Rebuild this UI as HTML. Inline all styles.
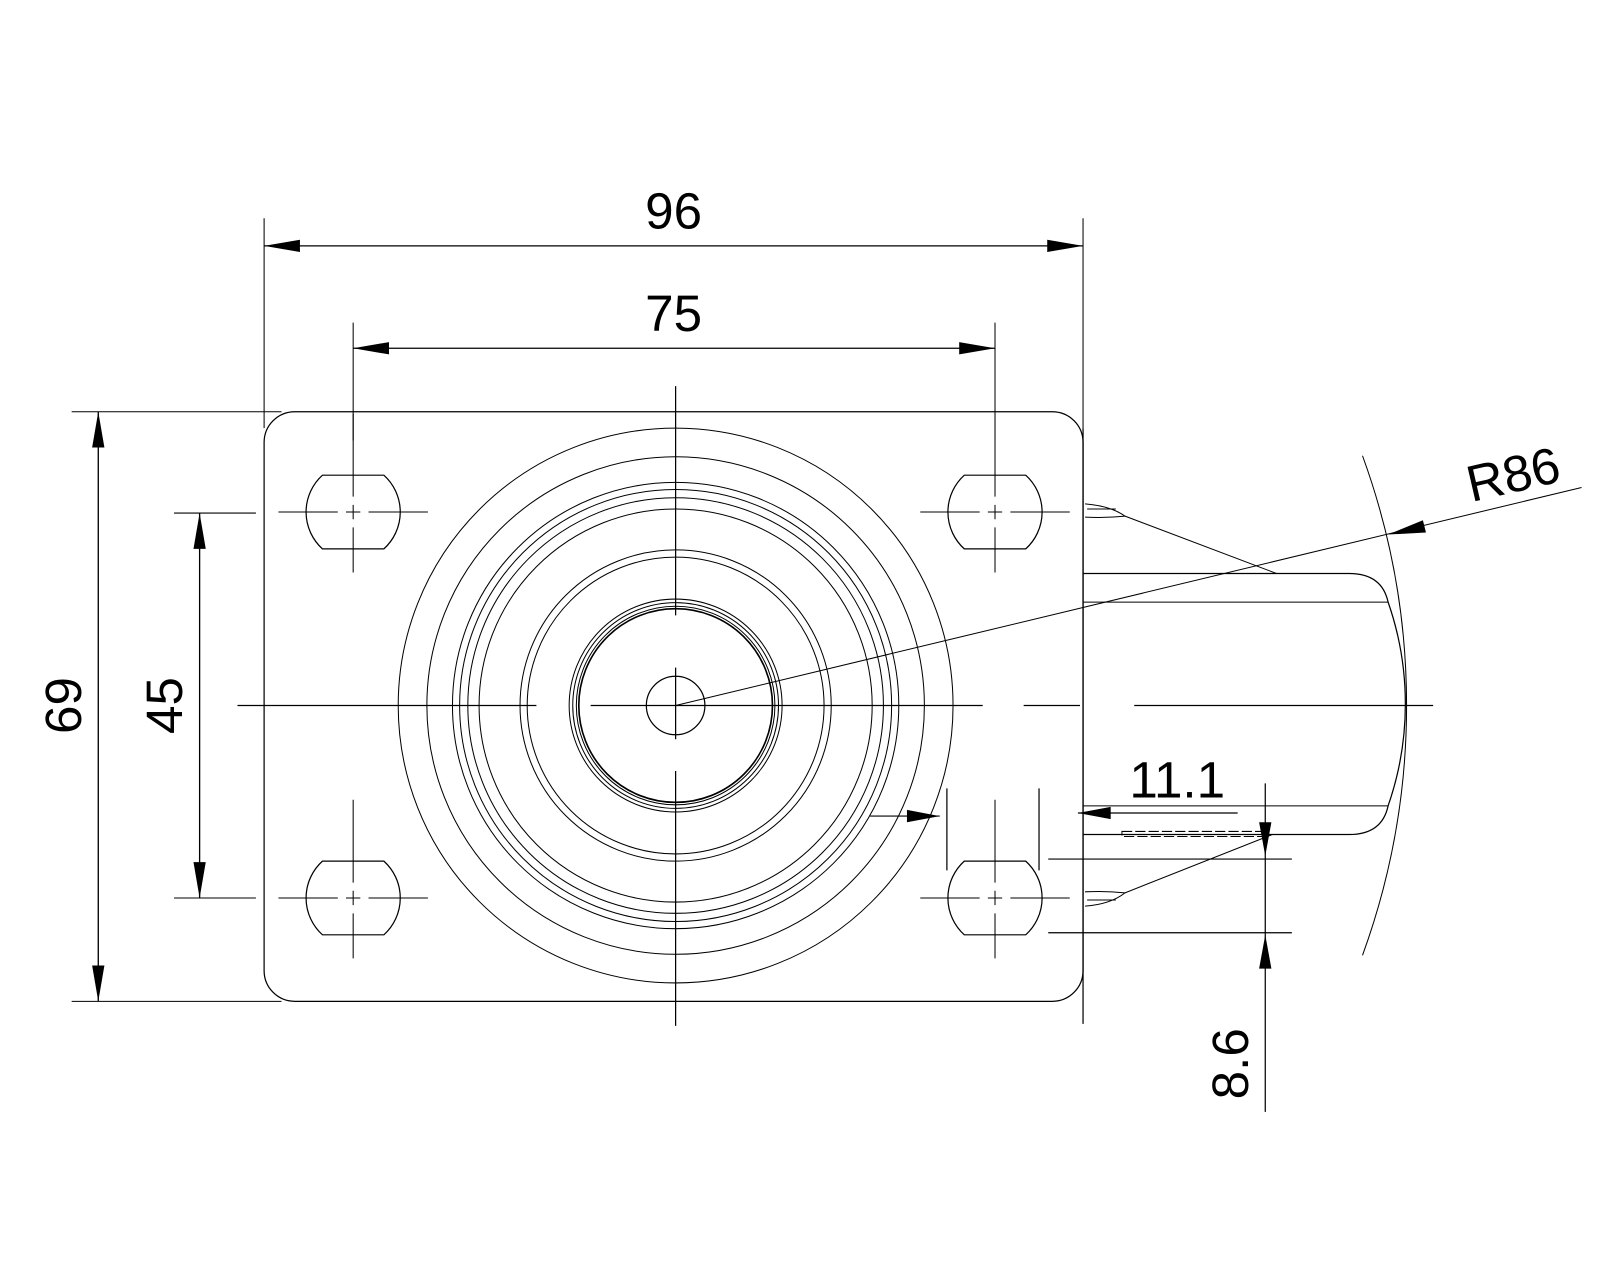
<!DOCTYPE html>
<html><head><meta charset="utf-8"><style>html,body{margin:0;padding:0;background:#fff}svg{display:block}</style></head>
<body>
<svg width="1600" height="1280" viewBox="0 0 1563 1250" xmlns="http://www.w3.org/2000/svg">
<defs>
<g id="slot">
<path d="M-30,-36 L30,-36 A48.5,48.5 0 0 1 30,36 L-30,36 A48.5,48.5 0 0 1 -30,-36 Z" fill="none" stroke="#000" stroke-width="1.2"/>
<path d="M-73,0 H-15 M15,0 H73 M-7,0 H7 M0,-96 V-15 M0,15 V59 M0,-7 V7" stroke="#000" stroke-width="1"/>
</g>
</defs>
<g fill="none" stroke="#000" stroke-width="1">
<!-- plate -->
<rect x="258" y="402" width="800" height="576" rx="30" ry="30" stroke-width="1.2"/>
<!-- circles -->
<g stroke-width="1">
<circle cx="660" cy="689" r="271"/>
<circle cx="660" cy="689" r="243"/>
<circle cx="660" cy="689" r="218"/>
<circle cx="660" cy="689" r="211"/>
<circle cx="660" cy="689" r="203"/>
<circle cx="660" cy="689" r="192"/>
<circle cx="660" cy="689" r="152"/>
<circle cx="660" cy="689" r="145"/>
<circle cx="660" cy="689" r="104"/>
<circle cx="660" cy="689" r="100.5"/>
<circle cx="660" cy="689" r="97"/>
<circle cx="660" cy="689" r="94.6" stroke-width="1.6"/>
<circle cx="660" cy="689" r="28.6" stroke-width="1.2"/>
</g>
<!-- center lines -->
<path d="M232,689 H524 M577,689 H960 M1000,689 H1055 M1108,689 H1400 M660,377 V601 M660,652 V722 M660,753 V1002" stroke-width="1.2"/>
<!-- extension lines -->
<path d="M258,213 V418 M1058,213 V418 M345,315 V430 M972,315 V430 M70,402 H275 M70,978 H275 M170,501 H250 M170,877 H250"/>
<!-- dimension lines -->
<path d="M258,240 H1058 M345,340 H972 M96,402 V978 M195,501 V877" stroke-width="1.3"/>
<!-- wheel profile -->
<path d="M1058,418 V1000" stroke-width="1.2"/>
<path d="M1058,560 H1318 Q1350,560 1356,588 A302,302 0 0 1 1356,787 Q1350,815 1318,815 H1058" stroke-width="1.2"/>
<path d="M1058,588 H1356 M1058,787 H1356"/>
<path d="M1099,504 L1247,560 M1243,815 L1099,872"/>
<path d="M1060,492 Q1085,494 1099,504 Q1080,506 1060,505 M1062,497 H1090"/>
<path d="M1060,885 Q1085,883 1099,872 Q1080,870 1060,871 M1062,879 H1090"/>
<path d="M1096,812 H1236 V817 H1096 Z" stroke-dasharray="10,3" stroke-width="1"/>
<!-- R86 arc -->
<path d="M1331,445 A713,713 0 0 1 1331,933"/>
<path d="M660,689 L1545,476"/>
<!-- 11.1 -->
<path d="M850,797 H918 M1053,794 H1209 M925,770 V850 M1015,770 V850" stroke-width="1.2"/>
<!-- 8.6 -->
<path d="M1236,765 V1086 M1024,839 H1262 M1024,911 H1262" stroke-width="1.2"/>
</g>
<!-- slots -->
<use href="#slot" x="345" y="500"/>
<use href="#slot" x="972" y="500"/>
<use href="#slot" x="345" y="877"/>
<use href="#slot" x="972" y="877"/>
<!-- arrowheads -->
<g fill="#000">
<polygon points="258,240 293,234 293,246"/>
<polygon points="1058,240 1023,234 1023,246"/>
<polygon points="345,340 380,334 380,346"/>
<polygon points="972,340 937,334 937,346"/>
<polygon points="96,402 90,437 102,437"/>
<polygon points="96,978 90,943 102,943"/>
<polygon points="195,501 189,536 201,536"/>
<polygon points="195,877 189,842 201,842"/>
<polygon points="918,797 886,791 886,803"/>
<polygon points="1053,794 1085,788 1085,800"/>
<polygon points="1236,836 1230,803 1242,803"/>
<polygon points="1236,913 1230,946 1242,946"/>
<polygon points="1356,522 1390,508 1393,520"/>
</g>
<g font-family="'Liberation Sans', sans-serif" font-size="50" fill="#000" text-anchor="middle">
<text x="658" y="223">96</text>
<text x="658" y="323">75</text>
<text x="1150" y="779">11.1</text>
<text transform="translate(79,689) rotate(-90)">69</text>
<text transform="translate(178,689) rotate(-90)">45</text>
<text transform="translate(1219,1039) rotate(-90)">8.6</text>
<text transform="translate(1482,480) rotate(-13)">R86</text>
</g>
</svg>
</body></html>
